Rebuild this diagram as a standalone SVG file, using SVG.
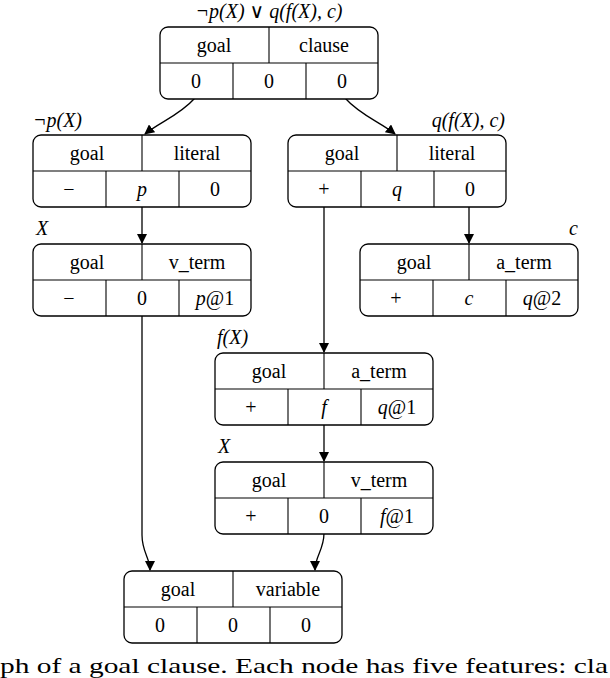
<svg xmlns="http://www.w3.org/2000/svg" width="610" height="678" viewBox="0 0 610 678">
<style>
.b{fill:#fff;stroke:#000;stroke-width:1.3}
.l{stroke:#000;stroke-width:1.1}
text{font-family:"Liberation Serif","DejaVu Serif",serif;font-size:20px;text-anchor:middle}
.i{font-style:italic}
.e{fill:none;stroke:#000;stroke-width:1.3;marker-end:url(#a)}
</style>
<defs>
<marker id="a" markerWidth="10" markerHeight="10" refX="9" refY="5" orient="auto" markerUnits="userSpaceOnUse"><path d="M0,0 L10,5 L0,10 z"/></marker>
<g id="tpl">
<rect class="b" x="0" y="0" width="218" height="72" rx="8"/>
<line class="l" x1="0" y1="36" x2="218" y2="36"/>
<line class="l" x1="109" y1="0" x2="109" y2="36"/>
<line class="l" x1="73" y1="36" x2="73" y2="72"/>
<line class="l" x1="146" y1="36" x2="146" y2="72"/>
</g>
</defs>
<rect width="610" height="678" fill="#fff"/>
<g id="edges">
<path class="e" d="M195,98 C180,115 160,122 145,134"/>
<path class="e" d="M345,98 C360,115 380,122 395,134"/>
<path class="e" d="M142,207 L142,243"/>
<path class="e" d="M469,207 L469,243"/>
<path class="e" d="M324,207 L324,352"/>
<path class="e" d="M324,425 L324,461"/>
<path class="e" d="M142,316 L142,535 C142,552 150,558 150,570"/>
<path class="e" d="M324,533 C324,550 315,556 315,570"/>
</g>
<g id="n1" transform="translate(160,27)"><use href="#tpl"/>
<text x="54" y="25">goal</text><text x="164" y="25">clause</text>
<text x="36" y="61">0</text><text x="109" y="61">0</text><text x="182" y="61">0</text></g>
<text x="269" y="18" class="i">¬p(X) ∨ q(f(X), c)</text>
<g id="n2" transform="translate(33,135)"><use href="#tpl"/>
<text x="54" y="25">goal</text><text x="164" y="25">literal</text>
<text x="36" y="61">−</text><text x="109" y="61" class="i">p</text><text x="182" y="61">0</text></g>
<text x="33" y="127" class="i" style="text-anchor:start">¬p(X)</text>
<g id="n3" transform="translate(288,135)"><use href="#tpl"/>
<text x="54" y="25">goal</text><text x="164" y="25">literal</text>
<text x="36" y="61">+</text><text x="109" y="61" class="i">q</text><text x="182" y="61">0</text></g>
<text x="505" y="127" class="i" style="text-anchor:end">q(f(X), c)</text>
<g id="n4" transform="translate(33,244)"><use href="#tpl"/>
<text x="54" y="25">goal</text><text x="164" y="25">v_term</text>
<text x="36" y="61">−</text><text x="109" y="61">0</text><text x="182" y="61"><tspan class="i">p</tspan>@1</text></g>
<text x="36" y="235" class="i" style="text-anchor:start">X</text>
<g id="n5" transform="translate(360,244)"><use href="#tpl"/>
<text x="54" y="25">goal</text><text x="164" y="25">a_term</text>
<text x="36" y="61">+</text><text x="109" y="61" class="i">c</text><text x="182" y="61"><tspan class="i">q</tspan>@2</text></g>
<text x="578" y="235" class="i" style="text-anchor:end">c</text>
<g id="n6" transform="translate(215,353)"><use href="#tpl"/>
<text x="54" y="25">goal</text><text x="164" y="25">a_term</text>
<text x="36" y="61">+</text><text x="109" y="61" class="i">f</text><text x="182" y="61"><tspan class="i">q</tspan>@1</text></g>
<text x="217" y="344" class="i" style="text-anchor:start">f(X)</text>
<g id="n7" transform="translate(215,462)"><use href="#tpl"/>
<text x="54" y="25">goal</text><text x="164" y="25">v_term</text>
<text x="36" y="61">+</text><text x="109" y="61">0</text><text x="182" y="61"><tspan class="i">f</tspan>@1</text></g>
<text x="218" y="453" class="i" style="text-anchor:start">X</text>
<g id="n8" transform="translate(124,571)"><use href="#tpl"/>
<text x="54" y="25">goal</text><text x="164" y="25">variable</text>
<text x="36" y="61">0</text><text x="109" y="61">0</text><text x="182" y="61">0</text></g>
<text x="0" y="673" textLength="608" lengthAdjust="spacingAndGlyphs" style="text-anchor:start;font-size:22px">ph of a goal clause. Each node has five features: cla</text>
</svg>
